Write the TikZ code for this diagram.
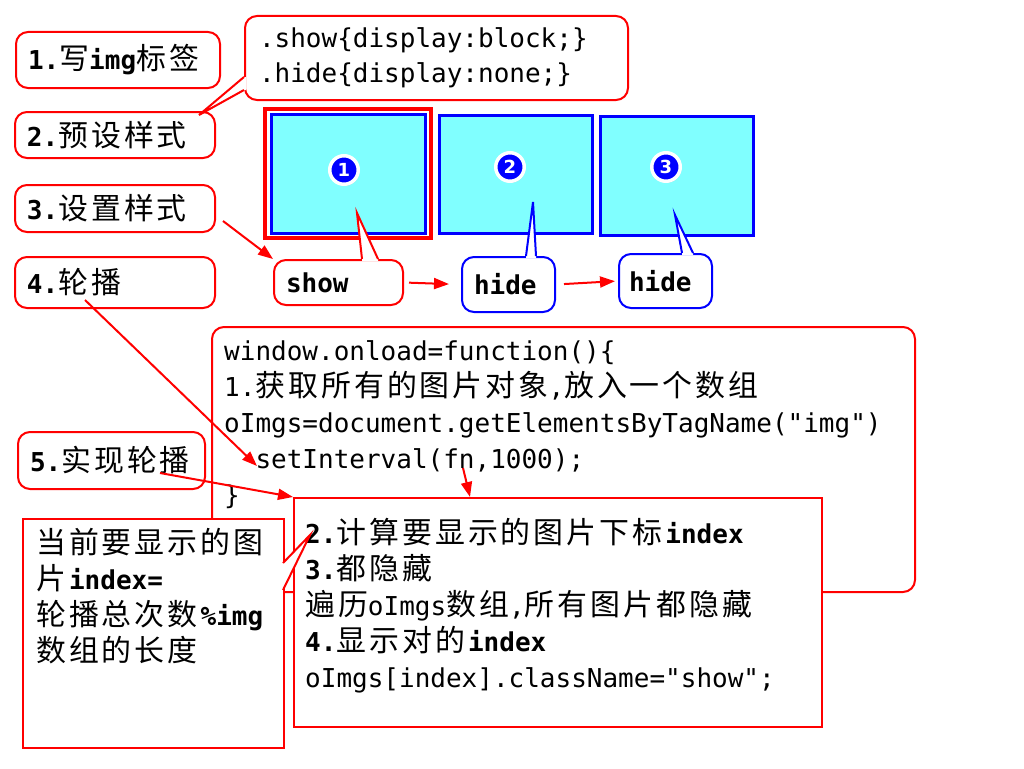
\documentclass[tikz,border=0pt]{standalone}
\usepackage{fontspec}
\usepackage{tikz}
\usetikzlibrary{arrows.meta,shadows}
\setmainfont[Ligatures=TeXOff]{DejaVu Sans Mono}
\newfontfamily\cjk[Scale=1.15,LetterSpace=10]{Noto Sans CJK SC}
\newfontfamily\dotfont{DejaVu Sans}
\newcommand{\zh}[1]{{\cjk\mdseries #1}}
\definecolor{slideRed}{RGB}{255,0,0}
\definecolor{slideBlue}{RGB}{0,0,255}
\definecolor{slideCyan}{RGB}{128,255,255}

\begin{document}
\begin{tikzpicture}[x=1pt,y=-1pt,
  font=\fontsize{26}{36}\selectfont,
  stepbox/.style={draw=slideRed, line width=2pt, rounded corners=12pt, fill=white,
    anchor=north west, inner xsep=12pt, inner ysep=0pt, align=left,
    font=\fontsize{26}{36}\selectfont\bfseries},
  tagbox/.style={line width=2pt, rounded corners=12pt, fill=white,
    anchor=north west, inner xsep=12pt, inner ysep=0pt, align=left,
    font=\fontsize{26}{36}\selectfont\bfseries},
  imgbox/.style={draw=slideBlue, line width=3pt, fill=slideCyan, inner sep=0pt},
  numdot/.style={circle, fill=slideBlue, draw=white, line width=3.5pt, minimum size=28.5pt,
    inner sep=0pt, text=white, font=\dotfont\bfseries\fontsize{18}{18}\selectfont,
    drop shadow={shadow xshift=1pt, shadow yshift=-1.5pt, opacity=0.35}},
  codetext/.style={anchor=base west, inner sep=0pt, align=left},
  arrow/.style={draw=slideRed, line width=2pt, -{Triangle[length=15pt,width=11pt]}}]
\useasboundingbox (0,0) rectangle (1024,768);

% steps on the left
\node[stepbox, text width=180pt, minimum height=56pt] (writeImg) at (15,31)
  {1.\zh{写}img\zh{标签}};
\node[stepbox, text width=176pt, minimum height=46pt] (presetCss) at (14,111)
  {2.\zh{预设样式}};
\node[stepbox, text width=176pt, minimum height=47pt] (setCss) at (14,184)
  {3.\zh{设置样式}};
\node[stepbox, text width=176pt, minimum height=51pt] (autoPlay) at (14,256)
  {4.\zh{轮播}};
\node[stepbox, text width=163pt, minimum height=57pt] (doPlay) at (17,431)
  {5.\zh{实现轮播}};

% css rules
\node[stepbox, font=\fontsize{26}{35}\selectfont, inner xsep=14pt, text width=355pt,
  minimum height=84pt] (cssCode) at (244,15)
  {.show\{display:block;\}\\.hide\{display:none;\}};
\fill[white] (246,77) -- (244,77) -- (199,115) -- (244,90) -- (246,90) -- cycle;
\draw[slideRed, line width=2pt] (244,77) -- (199,115) -- (244,90);

% the three pictures
\node[imgbox, minimum width=154pt, minimum height=119pt] (imgOne) at (348.5,174) {};
\node[imgbox, minimum width=153pt, minimum height=118pt] (imgTwo) at (516,174.5) {};
\node[imgbox, minimum width=153pt, minimum height=119pt] (imgThree) at (677,176) {};
\node[draw=slideRed, line width=4pt, minimum width=166pt, minimum height=129pt,
  inner sep=0pt] (imgMark) at (348,173.5) {};
\node[numdot] (dotOne) at (344,170) {1};
\node[numdot] (dotTwo) at (510,167) {2};
\node[numdot] (dotThree) at (666,167) {3};

% class of each picture
\node[tagbox, draw=slideRed, text width=105pt, minimum height=45pt] (tagShow) at (273,259) {show};
\fill[white] (362,261) -- (362,259) -- (357,213) -- (378,259) -- (378,261) -- cycle;
\draw[slideRed, line width=2pt] (362,259) -- (357,213) -- (378,259);
\node[tagbox, draw=slideBlue, text width=69pt, minimum height=55pt] (tagHideA) at (461,256) {hide};
\fill[white] (526,258) -- (526,256) -- (533,202) -- (536,256) -- (536,258) -- cycle;
\draw[slideBlue, line width=2pt] (526,256) -- (533,202) -- (536,256);
\node[tagbox, draw=slideBlue, inner xsep=10pt, text width=73pt, minimum height=54pt] (tagHideB) at (618,253) {hide};
\fill[white] (682,255) -- (682,253) -- (675,215) -- (693,253) -- (693,255) -- cycle;
\draw[slideBlue, line width=2pt] (682,253) -- (675,215) -- (693,253);

\draw[arrow, shorten <=5pt, shorten >=12pt] (tagShow.east) -- (tagHideA.west);
\draw[arrow, shorten <=8pt, shorten >=3pt] (tagHideA.east) -- (tagHideB.west);

% script (base of a text block = its last line)
\node[draw=slideRed, line width=2pt, rounded corners=12pt, fill=white, anchor=north west,
  minimum width=703pt, minimum height=265pt] (mainCode) at (211,326) {};
\node[codetext] (mainText) at (224,504)
  {window.onload=function()\{\\
   1.\zh{获取所有的图片对象},\zh{放入一个数组}\\
   oImgs=document.getElementsByTagName("img")\\
   \phantom{xx}setInterval(fn,1000);\\
   \}};

\node[draw=slideRed, line width=2pt, fill=white, anchor=north west,
  minimum width=528pt, minimum height=229pt] (loopCode) at (293,497) {};
\node[codetext] (loopText) at (305,687)
  {\textbf{2.}\zh{计算要显示的图片下标}\textbf{index}\\
   \textbf{3.}\zh{都隐藏}\\
   \zh{遍历}oImgs\zh{数组},\zh{所有图片都隐藏}\\
   \textbf{4.}\zh{显示对的}\textbf{index}\\
   oImgs[index].className="show";};

% note on the index
\node[draw=slideRed, line width=2pt, fill=white, anchor=north west,
  minimum width=261pt, minimum height=229pt] (indexNote) at (22,518) {};
\fill[white] (281,563) -- (283,563) -- (310,535) -- (283,590) -- (281,590) -- cycle;
\draw[slideRed, line width=2pt] (283,563) -- (310,535) -- (283,590);
\node[codetext] (noteText) at (36,661)
  {\zh{当前要显示的图}\\
   \zh{片}\textbf{index=}\\
   \zh{轮播总次数}\textbf{\%img}\\
   \zh{数组的长度}};

% arrows
\coordinate (cssFrom) at (223,221);
\coordinate (playFrom) at (85,300);
\coordinate (setInt) at (257,466);
\coordinate (doFrom) at (160,473);
\coordinate (fnFrom) at (463,468);
\draw[arrow] (cssFrom) -- (tagShow.north west);
\draw[arrow] (playFrom) -- (setInt);
\draw[arrow] (doFrom) -- (loopCode.north west);
\draw[arrow] (fnFrom) -- ([xshift=177pt]loopCode.north west);
\end{tikzpicture}
\end{document}
